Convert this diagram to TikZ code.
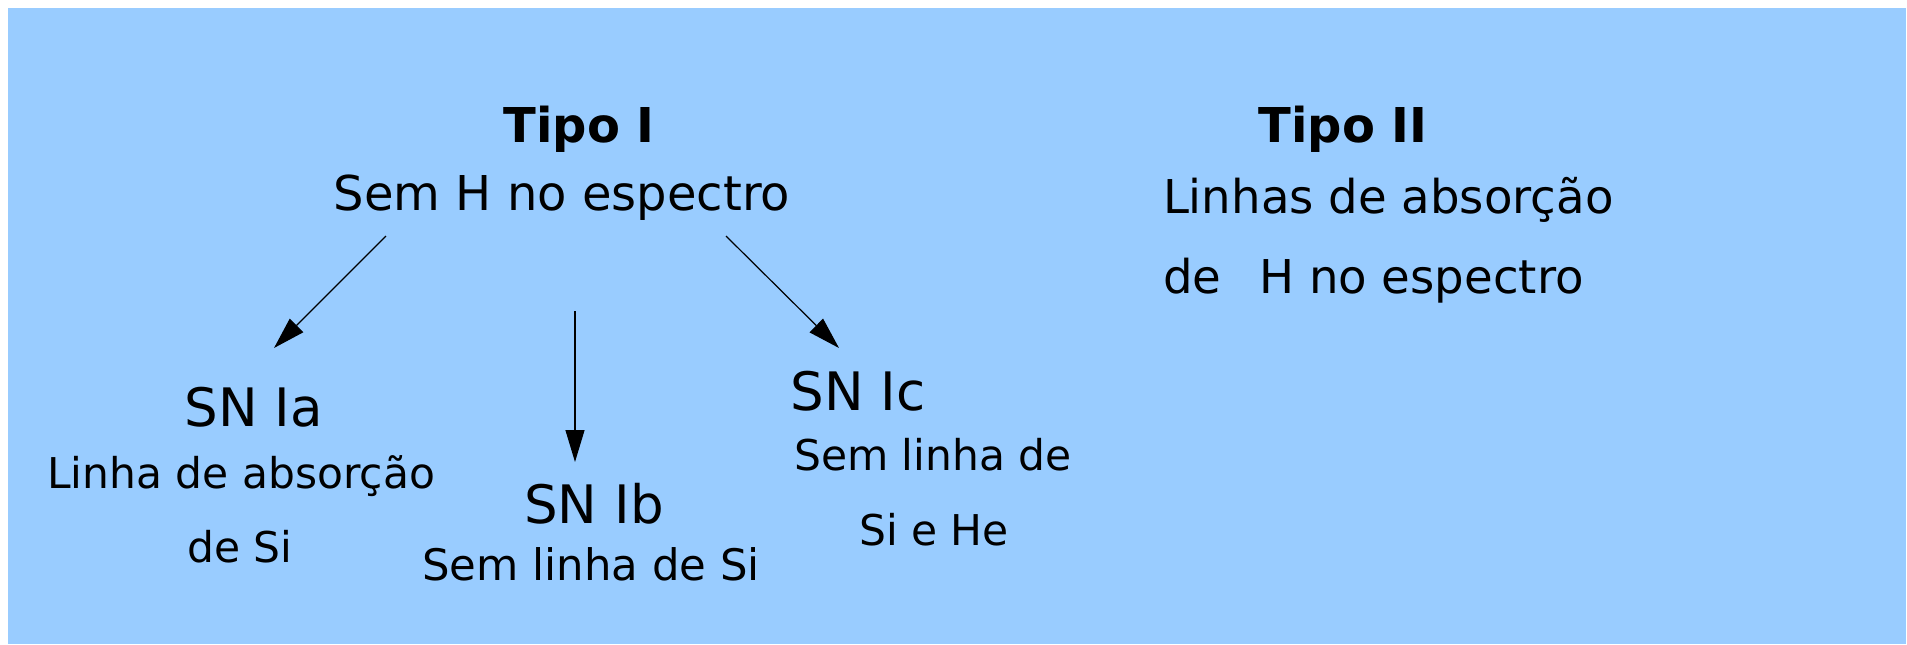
\documentclass[tikz,border=0pt]{standalone}
\usepackage{fontspec}
\setmainfont{DejaVu Sans}
\usetikzlibrary{arrows.meta}
\definecolor{sky}{HTML}{99CCFF}
\tikzset{
  lbl/.style={inner sep=0pt, outer sep=0pt, anchor=base, text=black},
  title/.style={lbl, font=\fontsize{24}{28}\selectfont\bfseries},
  sn/.style={lbl, font=\fontsize{26.5}{31}\selectfont},
  bodytxt/.style={lbl, font=\fontsize{23.3}{27}\selectfont},
  subtxt/.style={lbl, font=\fontsize{21.2}{25}\selectfont},
  branch/.style={draw=black, line width=0.6pt, -{Triangle[length=16pt,width=9.5pt]}}
}
\begin{document}
\begin{tikzpicture}[x=0.5pt, y=-0.5pt]
  % canvas and blue panel
  \useasboundingbox (0,0) rectangle (1907,644);
  \fill[white] (0,0) rectangle (1907,644);
  \fill[sky] (8,8) rectangle (1906,644);

  % Type I
  \node[title] (tipoI) at (579,142) {Tipo I};
  \node[bodytxt, font=\fontsize{24}{28}\selectfont] (semH) at (562,210) {Sem H no espectro};

  % Type II
  \node[title] (tipoII) at (1343,142) {Tipo II};
  \node[bodytxt, anchor=base west] (linhas) at (1163,213) {Linhas de absorção};
  \node[bodytxt, anchor=base west] (deH) at (1163,293) {de\hspace{19pt}H no espectro};

  % SN Ia
  \node[sn] (snIa) at (254,426) {SN Ia};
  \node[subtxt] (linhaAbs) at (241,488) {Linha de absorção};
  \node[subtxt] (deSi) at (240,562) {de Si};

  % SN Ib
  \node[sn] (snIb) at (594,523) {SN Ib};
  \node[subtxt, font=\fontsize{21.7}{25}\selectfont] (semSi) at (591,580) {Sem linha de Si};

  % SN Ic
  \node[sn] (snIc) at (858,410) {SN Ic};
  \node[subtxt] (semLinha) at (933,470) {Sem linha de};
  \node[subtxt] (siHe) at (934,545) {Si e He};

  % arrow end points
  \coordinate (aStart) at (386,236);
  \coordinate (aEnd) at (274,348);
  \coordinate (bStart) at (575,311);
  \coordinate (bEnd) at (575,462);
  \coordinate (cStart) at (726,236);
  \coordinate (cEnd) at (839,348);

  \draw[branch] (aStart) -- (aEnd);
  \draw[branch] (bStart) -- (bEnd);
  \draw[branch] (cStart) -- (cEnd);
\end{tikzpicture}
\end{document}
